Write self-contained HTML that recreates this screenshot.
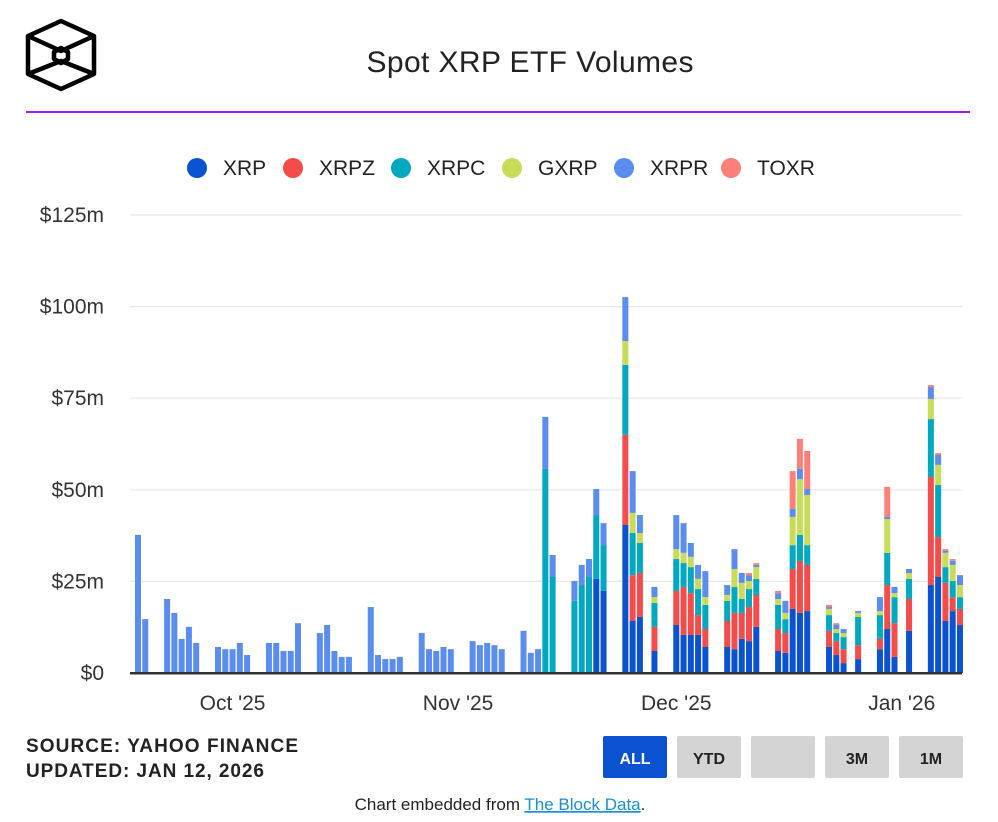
<!DOCTYPE html>
<html><head><meta charset="utf-8">
<style>
body{margin:0;background:#fff;font-family:"Liberation Sans",Arial,sans-serif;}
#wrap{position:relative;width:998px;height:822px;overflow:hidden;}
</style></head>
<body>
<div id="wrap">
<svg id="svg" width="998" height="822" xmlns="http://www.w3.org/2000/svg" style="position:absolute;left:0;top:0">
  <g fill="none" stroke="#000" stroke-width="4.5" stroke-linejoin="round">
    <polygon points="61,21 94,36 94,74 61,89 28,74 28,36"/>
    <polyline points="28,36 61,51 94,36"/>
    <polyline points="28,74 61,61 94,74"/>
    <polygon points="61,48 68,52 68,59 61,63 54,59 54,52"/>
  </g>
  <text x="530" y="72" text-anchor="middle" font-size="30" textLength="327" fill="#222">Spot XRP ETF Volumes</text>
  <rect x="26" y="111" width="944" height="2" fill="#a31ee8"/>
  <g id="legend"></g>
  <g id="grid"></g>
  <g id="bars"></g>
  <g id="axes"></g>
  <text x="26" y="752" font-size="19" font-weight="bold" textLength="272" fill="#222">SOURCE: YAHOO FINANCE</text>
  <text x="26" y="777" font-size="19" font-weight="bold" textLength="238" fill="#222">UPDATED: JAN 12, 2026</text>
  <g><rect x="603" y="736" width="64" height="42" rx="2" fill="#0b52d0"/><text x="635" y="764" text-anchor="middle" font-size="16" font-weight="bold" fill="#fff">ALL</text></g>
  <g><rect x="677" y="736" width="64" height="42" rx="2" fill="#d4d4d4"/><text x="709" y="764" text-anchor="middle" font-size="16" font-weight="bold" fill="#222">YTD</text></g>
  <g><rect x="751" y="736" width="64" height="42" rx="2" fill="#d4d4d4"/></g>
  <g><rect x="825" y="736" width="64" height="42" rx="2" fill="#d4d4d4"/><text x="857" y="764" text-anchor="middle" font-size="16" font-weight="bold" fill="#222">3M</text></g>
  <g><rect x="899" y="736" width="64" height="42" rx="2" fill="#d4d4d4"/><text x="931" y="764" text-anchor="middle" font-size="16" font-weight="bold" fill="#222">1M</text></g>
  <text x="500" y="810" text-anchor="middle" font-size="17" fill="#222">Chart embedded from <tspan fill="#1a8fd6" text-decoration="underline">The Block Data</tspan>.</text>
</svg>
</div>
<script>
const dates = ["2025-09-18","2025-09-19","2025-09-22","2025-09-23","2025-09-24","2025-09-25","2025-09-26","2025-09-29","2025-09-30",
"2025-10-01","2025-10-02","2025-10-03","2025-10-06","2025-10-07","2025-10-08","2025-10-09","2025-10-10","2025-10-13","2025-10-14","2025-10-15","2025-10-16","2025-10-17","2025-10-20","2025-10-21","2025-10-22","2025-10-23","2025-10-24","2025-10-27","2025-10-28","2025-10-29","2025-10-30","2025-10-31",
"2025-11-03","2025-11-04","2025-11-05","2025-11-06","2025-11-07","2025-11-10","2025-11-11","2025-11-12","2025-11-13","2025-11-14","2025-11-17","2025-11-18","2025-11-19","2025-11-20","2025-11-21","2025-11-24","2025-11-25","2025-11-26","2025-11-28",
"2025-12-01","2025-12-02","2025-12-03","2025-12-04","2025-12-05","2025-12-08","2025-12-09","2025-12-10","2025-12-11","2025-12-12","2025-12-15","2025-12-16","2025-12-17","2025-12-18","2025-12-19","2025-12-22","2025-12-23","2025-12-24","2025-12-26","2025-12-29","2025-12-30","2025-12-31",
"2026-01-02","2026-01-05","2026-01-06","2026-01-07","2026-01-08","2026-01-09"];
const xrp = [0,0,0,0,0,0,0,0,0,
0,0,0,0,0,0,0,0,0,0,0,0,0,0,0,0,0,0,0,0,0,0,0,
0,0,0,0,0,0,0,0,0,0,0,0,0,25.7,22.4,40.4,14.2,15.3,6.0,
13.1,10.4,10.4,10.4,7.1,7.1,6.5,9.3,8.7,12.6,6.0,5.5,17.5,16.4,16.9,7.1,4.9,2.7,3.8,6.5,12.0,4.4,
11.5,24.0,26.2,14.2,16.9,13.1];
const xrpz = [0,0,0,0,0,0,0,0,0,
0,0,0,0,0,0,0,0,0,0,0,0,0,0,0,0,0,0,0,0,0,0,0,
0,0,0,0,0,0,0,0,0,0,0,0,0,0,0,24.6,12.5,12.0,6.6,
9.3,13.1,11.4,5.4,4.9,7.1,9.9,7.1,9.3,8.7,6.0,5.4,10.9,14.2,12.6,4.4,3.8,3.8,3.8,2.8,12.0,9.2,
8.7,29.5,10.9,10.4,3.8,4.4];
const xrpc = [0,0,0,0,0,0,0,0,0,
0,0,0,0,0,0,0,0,0,0,0,0,0,0,0,0,0,0,0,0,0,0,0,
0,0,0,0,0,0,0,0,55.7,26.2,19.7,24.0,26.2,17.4,12.5,19.1,11.5,8.2,6.5,
8.7,6.5,7.1,7.1,6.6,5.5,7.1,3.8,4.9,4.4,6.6,3.8,6.5,7.1,5.4,4.3,2.2,3.3,7.7,6.5,8.8,7.1,
5.5,15.8,14.2,4.3,4.4,3.2];
const gxrp = [0,0,0,0,0,0,0,0,0,
0,0,0,0,0,0,0,0,0,0,0,0,0,0,0,0,0,0,0,0,0,0,0,
0,0,0,0,0,0,0,0,0,0,0,0,0,0,0,6.5,5.5,2.7,1.6,
2.7,2.8,2.8,2.8,2.1,1.6,4.9,4.4,2.2,3.2,1.6,1.7,7.7,15.2,13.7,1.7,1.1,1.1,1.1,1.1,9.2,1.1,
1.6,5.5,5.5,3.9,4.4,3.3];
const xrpr = [37.7,14.7,20.2,16.4,9.3,12.6,8.2,7.1,6.5,
6.5,8.2,4.9,8.2,8.2,6.0,6.0,13.6,10.9,13.1,6.0,4.4,4.4,18.0,4.9,3.8,3.8,4.4,10.9,6.5,6.0,7.1,6.5,
8.7,7.6,8.2,7.6,6.5,11.5,5.5,6.5,14.2,6.0,5.4,5.5,4.9,7.1,6.0,12.0,11.4,4.9,2.8,
9.3,8.1,3.8,3.8,7.1,2.7,5.4,2.7,1.6,0.6,1.6,3.3,2.2,2.8,1.6,0.5,1.1,1.1,0.5,3.8,0.6,1.7,
1.1,3.3,2.7,0.5,1.1,2.7];
const toxr = [0,0,0,0,0,0,0,0,0,
0,0,0,0,0,0,0,0,0,0,0,0,0,0,0,0,0,0,0,0,0,0,0,
0,0,0,0,0,0,0,0,0,0,0,0,0,0,0,0,0,0,0,
0,0,0,0,0,0,0,0,0.6,0.5,0.6,0,10.3,8.2,10.4,0.6,0.5,0,0,0,8.2,0,
0,0.5,0.5,0.5,0.5,0];
const seriesNames = ["XRP","XRPZ","XRPC","GXRP","XRPR","TOXR"];
const seriesColors = ["#0b52d0","#f44b4b","#00a8c0","#c8dc5a","#5b8def","#ff807a"];
const yTicks = [0,25,50,75,100,125];
const yTickLabels = ["$0","$25m","$50m","$75m","$100m","$125m"];
const xTickDates = ["2025-10-01","2025-11-01","2025-12-01","2026-01-01"];
const xTickLabels = ["Oct '25","Nov '25","Dec '25","Jan '26"];

const NS="http://www.w3.org/2000/svg";
const series=[xrp,xrpz,xrpc,gxrp,xrpr,toxr];
const t0=Date.parse("2025-09-18");
const dayOf=d=>(Date.parse(d)-t0)/86400000;
const X=d=>135+dayOf(d)*7.274;
const Y=v=>673-v*3.664;
function mk(tag,attrs,parent){const e=document.createElementNS(NS,tag);for(const k in attrs)e.setAttribute(k,attrs[k]);parent.appendChild(e);return e;}

const grid=document.getElementById('grid');
yTicks.forEach((t,i)=>{
  if(i>0){const l=mk('line',{x1:130,x2:962,y1:Y(t),y2:Y(t),stroke:'#e8e8e8','stroke-width':1.2},grid);
    
    }
  const tx=mk('text',{x:104,y:Y(t)+7,'text-anchor':'end','font-size':21,fill:'#333'},grid);
  tx.textContent=yTickLabels[i];
  
  
});
const bars=document.getElementById('bars');
dates.forEach((d,i)=>{
  let acc=0;
  series.forEach((s,k)=>{
    const v=s[i]; if(!v) return;
    const r=mk('rect',{x:X(d),width:6,y:Y(acc+v),height:v*3.664,fill:seriesColors[k]},bars);
    
    
    acc+=v;
  });
});
const axes=document.getElementById('axes');
const ax=mk('rect',{x:130,y:672,width:832,height:2.5,fill:'#333'},axes);


xTickDates.forEach((d,i)=>{
  const tx=mk('text',{x:X(d)+3,y:710,'text-anchor':'middle','font-size':21,fill:'#333'},axes);
  tx.textContent=xTickLabels[i];
  
  
});
const legend=document.getElementById('legend');
const lx=[197,293,401,512,624,731];
seriesNames.forEach((n,k)=>{
  const g=mk('g',{},legend);
  
  
  mk('circle',{cx:lx[k],cy:168,r:10,fill:seriesColors[k]},g);
  const t=mk('text',{x:lx[k]+26,y:175,'font-size':21,fill:'#222'},g);
  t.textContent=n;
});
</script>
</body></html>
